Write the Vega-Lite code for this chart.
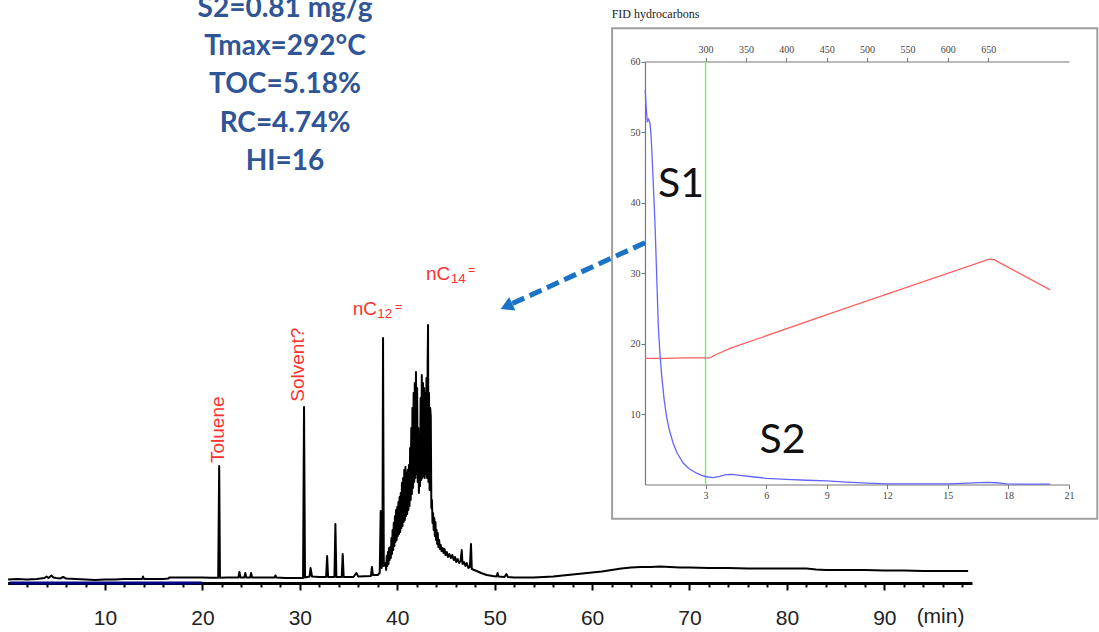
{
  "$schema": "https://vega.github.io/schema/vega-lite/v6.json",
  "width": 1099,
  "height": 632,
  "autosize": "none",
  "padding": 0,
  "background": "white",
  "config": {"view": {"stroke": null}, "axis": {"grid": false}},
  "resolve": {"scale": {"x": "independent", "y": "independent"}},
  "layer": [
    {
      "encoding": {
        "x": {"field": "t", "type": "quantitative",
          "scale": {"domain": [0, 21], "range": [645, 1069], "nice": false, "zero": false},
          "axis": {"orient": "bottom", "offset": -147.5, "values": [3, 6, 9, 12, 15, 18, 21], "title": null,
            "domainColor": "#777", "domainWidth": 1.2, "tickColor": "#777", "tickSize": 4,
            "labelFont": "Liberation Serif", "labelFontSize": 10, "labelColor": "#444", "labelPadding": 2, "labelFlush": false}},
        "y": {"field": "s", "type": "quantitative",
          "scale": {"domain": [0, 60], "range": [484.5, 61.5], "nice": false, "zero": false},
          "axis": {"orient": "left", "offset": -645, "values": [10, 20, 30, 40, 50, 60], "title": null,
            "domainColor": "#777", "domainWidth": 1.2, "tickColor": "#777", "tickSize": 4,
            "labelFont": "Liberation Serif", "labelFontSize": 10, "labelColor": "#444", "labelPadding": 1, "labelFlush": false}}
      },
      "layer": [
        {
          "data": {"values": [{"t": -1.63, "t2": 22.4, "s": 64.71, "s2": -4.85}]},
          "mark": {"type": "rect", "fillOpacity": 0, "stroke": "#a0a0a0", "strokeWidth": 2},
          "encoding": {"x2": {"field": "t2"}, "y2": {"field": "s2"}}
        },
        {
          "data": {"values": [{"t": 3, "s": 0, "s2": 60}]},
          "mark": {"type": "rule", "color": "#7de87d", "strokeWidth": 1.5},
          "encoding": {"y2": {"field": "s2"}}
        },
        {
          "data": {"values": [
            {"t": 0.02, "s": 17.9}, {"t": 1, "s": 17.9}, {"t": 2, "s": 17.95}, {"t": 3.0, "s": 17.95},
            {"t": 3.25, "s": 18.0}, {"t": 3.5, "s": 18.4}, {"t": 4.21, "s": 19.3}, {"t": 9.66, "s": 24.75},
            {"t": 17.05, "s": 31.95}, {"t": 17.3, "s": 31.9}, {"t": 17.6, "s": 31.4}, {"t": 20.07, "s": 27.6}
          ]},
          "mark": {"type": "line", "color": "#ff6060", "strokeWidth": 1.3}
        },
        {
          "data": {"values": [
            {"t": 0.01, "s": 56.0}, {"t": 0.06, "s": 53.5}, {"t": 0.11, "s": 51.5}, {"t": 0.18, "s": 51.8},
            {"t": 0.25, "s": 51.2}, {"t": 0.3, "s": 49.5}, {"t": 0.36, "s": 46}, {"t": 0.42, "s": 42},
            {"t": 0.5, "s": 36.6}, {"t": 0.58, "s": 29.5}, {"t": 0.66, "s": 22.4}, {"t": 0.75, "s": 18.2},
            {"t": 0.83, "s": 15.3}, {"t": 0.95, "s": 12}, {"t": 1.07, "s": 9.6}, {"t": 1.2, "s": 7.8},
            {"t": 1.4, "s": 5.8}, {"t": 1.6, "s": 4.4}, {"t": 1.9, "s": 3.0}, {"t": 2.2, "s": 2.2},
            {"t": 2.56, "s": 1.6}, {"t": 2.8, "s": 1.3}, {"t": 3.05, "s": 1.1}, {"t": 3.38, "s": 0.97},
            {"t": 3.7, "s": 1.15}, {"t": 4.0, "s": 1.4}, {"t": 4.3, "s": 1.45}, {"t": 4.71, "s": 1.3},
            {"t": 5.3, "s": 1.1}, {"t": 6.03, "s": 0.88}, {"t": 7, "s": 0.72}, {"t": 8, "s": 0.6},
            {"t": 9, "s": 0.5}, {"t": 10, "s": 0.35}, {"t": 11, "s": 0.2}, {"t": 12, "s": 0.1},
            {"t": 13, "s": 0.08}, {"t": 14, "s": 0.08}, {"t": 15, "s": 0.1}, {"t": 16, "s": 0.2},
            {"t": 16.9, "s": 0.3}, {"t": 17.4, "s": 0.25}, {"t": 17.9, "s": 0.08}, {"t": 19, "s": 0.05},
            {"t": 20.07, "s": 0.05}
          ]},
          "mark": {"type": "line", "color": "#6464ff", "strokeWidth": 1.3}
        },
        {
          "data": {"values": [{"t": 1.78, "s": 40.8, "label": "S1"}, {"t": 6.81, "s": 4.47, "label": "S2"}]},
          "mark": {"type": "text", "font": "Lato", "fontSize": 41, "color": "#111", "align": "center", "baseline": "alphabetic"},
          "encoding": {"text": {"field": "label"}}
        },
        {
          "data": {"values": [{"t": -1.65, "s": 66.8, "label": "FID hydrocarbons"}]},
          "mark": {"type": "text", "font": "Liberation Serif", "fontSize": 12, "color": "#222", "align": "left", "baseline": "middle"},
          "encoding": {"text": {"field": "label"}}
        }
      ]
    },
    {
      "data": {"values": [{"temp": 300}]},
      "mark": {"type": "point", "opacity": 0},
      "encoding": {
        "x": {"field": "temp", "type": "quantitative",
          "scale": {"domain": [225, 750], "range": [645, 1069], "nice": false, "zero": false},
          "axis": {"orient": "top", "offset": -61.5, "values": [300, 350, 400, 450, 500, 550, 600, 650], "title": null,
            "domainColor": "#777", "domainWidth": 1.2, "tickColor": "#777", "tickSize": 4,
            "labelFont": "Liberation Serif", "labelFontSize": 10, "labelColor": "#444", "labelPadding": 3, "labelFlush": false}}
      }
    },
    {
      "encoding": {
        "x": {"field": "t", "type": "quantitative",
          "scale": {"domain": [0, 99], "range": [7.6, 972], "nice": false, "zero": false},
          "axis": {"orient": "bottom", "offset": -49, "title": null,
            "values": [2,4,6,8,10,12,14,16,18,20,22,24,26,28,30,32,34,36,38,40,42,44,46,48,50,52,54,56,58,60,62,64,66,68,70,72,74,76,78,80,82,84,86,88,90,92,94,96,98],
            "labelExpr": "datum.value % 10 === 0 ? datum.label : ''",
            "domainColor": "#000", "domainWidth": 3, "tickColor": "#000", "tickWidth": 2,
            "tickSize": {"condition": {"test": "datum.value % 10 === 0", "value": 7}, "value": 4},
            "labelFont": "Liberation Sans", "labelFontSize": 21, "labelColor": "#222", "labelPadding": 17,
            "labelFlush": false, "labelOverlap": false}},
        "y": {"field": "v", "type": "quantitative",
          "scale": {"domain": [0, 260], "range": [578, 318], "nice": false, "zero": false},
          "axis": null}
      },
      "layer": [
        {
          "data": {"values": [{"t": 0.25, "t2": 19.95, "v": -5}]},
          "mark": {"type": "rule", "color": "#000080", "strokeWidth": 3},
          "encoding": {"x2": {"field": "t2"}}
        },
        {
          "data": {"values": [
            {"t": 0.05, "v": -1.5}, {"t": 1, "v": -1}, {"t": 2, "v": -1.5}, {"t": 3, "v": -1}, {"t": 3.8, "v": 0},
            {"t": 4.0, "v": 1.5}, {"t": 4.2, "v": 0}, {"t": 4.5, "v": 2.5}, {"t": 4.7, "v": 0.5}, {"t": 5.0, "v": 0},
            {"t": 5.4, "v": -0.5}, {"t": 5.7, "v": 1}, {"t": 6.0, "v": -0.5}, {"t": 7, "v": -1}, {"t": 8, "v": -1.5},
            {"t": 9, "v": -2}, {"t": 10, "v": -1.5}, {"t": 11, "v": -1.5}, {"t": 12, "v": -1}, {"t": 13, "v": -1},
            {"t": 13.8, "v": -1}, {"t": 13.9, "v": 1.5}, {"t": 14.0, "v": -1}, {"t": 15, "v": -1}, {"t": 16, "v": -1},
            {"t": 16.5, "v": -0.5}, {"t": 16.6, "v": 0.5}, {"t": 17, "v": 0.5}, {"t": 18, "v": 0.5}, {"t": 19, "v": 0.5},
            {"t": 20, "v": 0.5}, {"t": 21, "v": 0.3}, {"t": 21.62, "v": 0.3}, {"t": 21.72, "v": 112}, {"t": 21.8, "v": 0.3},
            {"t": 22.5, "v": 0.5}, {"t": 23, "v": 0.5}, {"t": 23.7, "v": 0.5}, {"t": 23.8, "v": 6}, {"t": 23.9, "v": 0.5},
            {"t": 24.3, "v": 0.5}, {"t": 24.4, "v": 5}, {"t": 24.5, "v": 0.5}, {"t": 24.9, "v": 0.5}, {"t": 25.0, "v": 5},
            {"t": 25.1, "v": 0.5}, {"t": 26, "v": 0.5}, {"t": 27.4, "v": 0.5}, {"t": 27.5, "v": 2.5}, {"t": 27.6, "v": 0.5},
            {"t": 28.5, "v": 0}, {"t": 29.5, "v": 0}, {"t": 30.33, "v": 0}, {"t": 30.43, "v": 171}, {"t": 30.53, "v": 0.5},
            {"t": 31.0, "v": 1.5}, {"t": 31.1, "v": 10}, {"t": 31.25, "v": 1.5}, {"t": 32, "v": 1}, {"t": 32.7, "v": 1},
            {"t": 32.8, "v": 22}, {"t": 32.9, "v": 1}, {"t": 33.55, "v": 1}, {"t": 33.65, "v": 54}, {"t": 33.75, "v": 1},
            {"t": 34.3, "v": 1}, {"t": 34.4, "v": 24}, {"t": 34.5, "v": 1}, {"t": 35.5, "v": 1}, {"t": 35.8, "v": 5},
            {"t": 36.0, "v": 1.5}, {"t": 37.3, "v": 2}, {"t": 37.4, "v": 11}, {"t": 37.5, "v": 3}, {"t": 38.0, "v": 3},
            {"t": 38.2, "v": 5}, {"t": 38.3, "v": 67}, {"t": 38.4, "v": 10}, {"t": 38.48, "v": 20}, {"t": 38.54, "v": 240},
            {"t": 38.62, "v": 12}, {"t": 38.80, "v": 15}, {"t": 38.86, "v": 8}, {"t": 38.92, "v": 22}, {"t": 38.98, "v": 12},
            {"t": 39.04, "v": 26}, {"t": 39.10, "v": 14}, {"t": 39.16, "v": 30}, {"t": 39.22, "v": 18}, {"t": 39.28, "v": 31},
            {"t": 39.34, "v": 20}, {"t": 39.40, "v": 40}, {"t": 39.46, "v": 24}, {"t": 39.52, "v": 48}, {"t": 39.58, "v": 28},
            {"t": 39.64, "v": 55}, {"t": 39.70, "v": 32}, {"t": 39.76, "v": 62}, {"t": 39.82, "v": 36}, {"t": 39.88, "v": 68},
            {"t": 39.94, "v": 38}, {"t": 40.00, "v": 71}, {"t": 40.06, "v": 42}, {"t": 40.12, "v": 76}, {"t": 40.18, "v": 44},
            {"t": 40.24, "v": 81}, {"t": 40.30, "v": 46}, {"t": 40.36, "v": 85}, {"t": 40.42, "v": 50}, {"t": 40.48, "v": 95},
            {"t": 40.54, "v": 52}, {"t": 40.60, "v": 100}, {"t": 40.66, "v": 56}, {"t": 40.72, "v": 108}, {"t": 40.78, "v": 58},
            {"t": 40.84, "v": 111}, {"t": 40.90, "v": 62}, {"t": 40.96, "v": 105}, {"t": 41.02, "v": 64}, {"t": 41.08, "v": 108},
            {"t": 41.14, "v": 68}, {"t": 41.20, "v": 113}, {"t": 41.26, "v": 72}, {"t": 41.32, "v": 130}, {"t": 41.38, "v": 78},
            {"t": 41.44, "v": 150}, {"t": 41.50, "v": 84}, {"t": 41.56, "v": 170}, {"t": 41.62, "v": 90}, {"t": 41.68, "v": 185},
            {"t": 41.74, "v": 96}, {"t": 41.80, "v": 195}, {"t": 41.86, "v": 100}, {"t": 41.92, "v": 206}, {"t": 41.98, "v": 104},
            {"t": 42.04, "v": 190}, {"t": 42.10, "v": 96}, {"t": 42.16, "v": 150}, {"t": 42.22, "v": 85}, {"t": 42.28, "v": 110},
            {"t": 42.34, "v": 92}, {"t": 42.40, "v": 180}, {"t": 42.46, "v": 98}, {"t": 42.52, "v": 203}, {"t": 42.58, "v": 100},
            {"t": 42.64, "v": 195}, {"t": 42.70, "v": 102}, {"t": 42.76, "v": 190}, {"t": 42.82, "v": 100}, {"t": 42.88, "v": 185},
            {"t": 42.94, "v": 104}, {"t": 43.00, "v": 200}, {"t": 43.06, "v": 100}, {"t": 43.12, "v": 215}, {"t": 43.16, "v": 253},
            {"t": 43.20, "v": 96}, {"t": 43.26, "v": 185}, {"t": 43.32, "v": 88}, {"t": 43.38, "v": 170}, {"t": 43.44, "v": 162},
            {"t": 43.50, "v": 70}, {"t": 43.56, "v": 78}, {"t": 43.62, "v": 55}, {"t": 43.68, "v": 65}, {"t": 43.74, "v": 48},
            {"t": 43.80, "v": 60}, {"t": 43.86, "v": 42}, {"t": 43.92, "v": 56}, {"t": 43.98, "v": 38}, {"t": 44.04, "v": 48},
            {"t": 44.10, "v": 34}, {"t": 44.16, "v": 45}, {"t": 44.22, "v": 31}, {"t": 44.30, "v": 38}, {"t": 44.38, "v": 29},
            {"t": 44.46, "v": 33}, {"t": 44.55, "v": 27}, {"t": 44.65, "v": 30}, {"t": 44.75, "v": 25}, {"t": 44.85, "v": 29},
            {"t": 44.95, "v": 23}, {"t": 45.08, "v": 26}, {"t": 45.2, "v": 21}, {"t": 45.35, "v": 24}, {"t": 45.5, "v": 20},
            {"t": 45.65, "v": 23}, {"t": 45.8, "v": 18}, {"t": 45.93, "v": 21}, {"t": 46.05, "v": 16}, {"t": 46.2, "v": 19},
            {"t": 46.35, "v": 15}, {"t": 46.5, "v": 17}, {"t": 46.62, "v": 28}, {"t": 46.7, "v": 14}, {"t": 46.85, "v": 16},
            {"t": 47.0, "v": 12}, {"t": 47.13, "v": 15}, {"t": 47.3, "v": 10}, {"t": 47.45, "v": 11}, {"t": 47.57, "v": 34},
            {"t": 47.65, "v": 9}, {"t": 47.9, "v": 8}, {"t": 48.16, "v": 7}, {"t": 48.6, "v": 5}, {"t": 49.18, "v": 3},
            {"t": 49.8, "v": 2}, {"t": 50.2, "v": 1.5}, {"t": 50.3, "v": 5}, {"t": 50.4, "v": 1.5}, {"t": 51.0, "v": 1},
            {"t": 51.2, "v": 4}, {"t": 51.35, "v": 1}, {"t": 52, "v": 0.5}, {"t": 53, "v": 0.5}, {"t": 54, "v": 0.5},
            {"t": 55, "v": 1}, {"t": 56, "v": 1.5}, {"t": 57, "v": 2.5}, {"t": 58, "v": 3.5}, {"t": 59, "v": 4.5},
            {"t": 60, "v": 5.5}, {"t": 61, "v": 6.5}, {"t": 62, "v": 8}, {"t": 63, "v": 9.5}, {"t": 64, "v": 10.5},
            {"t": 65, "v": 11}, {"t": 66, "v": 11}, {"t": 67, "v": 11.5}, {"t": 68, "v": 11}, {"t": 69, "v": 10.5},
            {"t": 70, "v": 10.5}, {"t": 72, "v": 10}, {"t": 74, "v": 10}, {"t": 76, "v": 9.5}, {"t": 78, "v": 9.5},
            {"t": 80, "v": 9.5}, {"t": 82, "v": 9.5}, {"t": 83, "v": 8.5}, {"t": 84, "v": 8}, {"t": 86, "v": 8},
            {"t": 88, "v": 8}, {"t": 90, "v": 7.5}, {"t": 92, "v": 7.5}, {"t": 94, "v": 7}, {"t": 96, "v": 7},
            {"t": 98.6, "v": 7}
          ]},
          "mark": {"type": "line", "color": "#000", "strokeWidth": 2, "strokeJoin": "round"}
        },
        {
          "data": {"values": [{"t": 95.77, "v": -39, "label": "(min)"}]},
          "mark": {"type": "text", "font": "Liberation Sans", "fontSize": 21, "color": "#222", "align": "center", "baseline": "middle"},
          "encoding": {"text": {"field": "label"}}
        },
        {
          "data": {"values": [
            {"t": 28.48, "v": 561.3, "label": "S2=0.81 mg/g"},
            {"t": 28.48, "v": 523, "label": "Tmax=292°C"},
            {"t": 28.48, "v": 484.7, "label": "TOC=5.18%"},
            {"t": 28.48, "v": 446.3, "label": "RC=4.74%"},
            {"t": 28.48, "v": 408, "label": "HI=16"}
          ]},
          "mark": {"type": "text", "font": "Lato", "fontWeight": "bold", "fontSize": 28, "color": "#2F5597", "align": "center", "baseline": "alphabetic"},
          "encoding": {"text": {"field": "label"}}
        },
        {
          "data": {"values": [
            {"t": 21.63, "v": 115, "label": "Toluene"},
            {"t": 29.85, "v": 176.3, "label": "Solvent?"}
          ]},
          "mark": {"type": "text", "font": "Liberation Sans", "fontSize": 19, "color": "#ff3030", "angle": 270, "align": "left", "baseline": "middle"},
          "encoding": {"text": {"field": "label"}}
        },
        {
          "data": {"values": [
            {"t": 35.43, "v": 263, "label": "nC"},
            {"t": 42.95, "v": 298, "label": "nC"}
          ]},
          "mark": {"type": "text", "font": "Liberation Sans", "fontSize": 19, "color": "#ff3030", "align": "left", "baseline": "alphabetic"},
          "encoding": {"text": {"field": "label"}}
        },
        {
          "data": {"values": [
            {"t": 37.95, "v": 259.7, "label": "12"},
            {"t": 45.49, "v": 294.7, "label": "14"}
          ]},
          "mark": {"type": "text", "font": "Liberation Sans", "fontSize": 13.5, "color": "#ff3030", "align": "left", "baseline": "alphabetic"},
          "encoding": {"text": {"field": "label"}}
        },
        {
          "data": {"values": [
            {"t": 39.77, "v": 267, "label": "="},
            {"t": 47.3, "v": 304, "label": "="}
          ]},
          "mark": {"type": "text", "font": "Liberation Sans", "fontSize": 12, "color": "#ff3030", "align": "left", "baseline": "alphabetic"},
          "encoding": {"text": {"field": "label"}}
        },
        {
          "data": {"values": [{"t": 65.44, "v": 335.3, "t2": 51.78, "v2": 274.3}]},
          "mark": {"type": "rule", "color": "#1A73C4", "strokeWidth": 5, "strokeDash": [13, 6], "strokeCap": "butt"},
          "encoding": {"x2": {"field": "t2"}, "y2": {"field": "v2"}}
        },
        {
          "data": {"values": [{"t": 51.21, "v": 271.6}]},
          "mark": {"type": "point", "shape": "triangle-up", "filled": true, "color": "#1A73C4", "opacity": 1, "size": 220, "angle": 245.3}
        }
      ]
    }
  ]
}
